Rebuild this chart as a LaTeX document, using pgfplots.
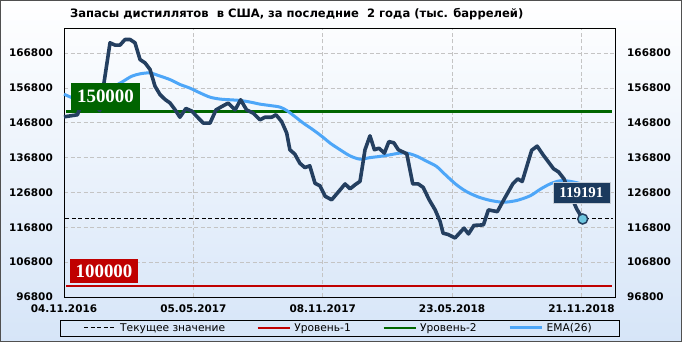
\documentclass[border=0pt]{standalone}
\usepackage{fontspec}
\setmainfont{DejaVu Sans}
\newfontfamily\lblfont{Liberation Serif}
\usepackage{pgfplots}
\pgfplotsset{compat=1.18}
\definecolor{lineC}{HTML}{243F60}
\definecolor{emaC}{HTML}{4DA6F8}
\definecolor{greenC}{HTML}{006600}
\definecolor{greenBox}{HTML}{006400}
\definecolor{redC}{HTML}{C00000}
\definecolor{markC}{HTML}{6EC6DF}
\definecolor{bgB}{HTML}{D6E5F8}
\definecolor{frameC}{HTML}{505050}
\definecolor{gridC}{HTML}{C4C4C4}
\definecolor{boxC}{HTML}{1B3A5E}
\begin{document}
\begin{tikzpicture}
\shade[top color=white, bottom color=bgB] (0,0) rectangle (682bp,342bp);
\draw[frameC, line width=1bp] (0.5bp,0.5bp) rectangle (681.5bp,341.5bp);
\node[anchor=west, font=\bfseries\fontsize{11.6}{13}\selectfont, inner sep=0] at (70bp,328bp) {Запасы дистиллятов\ \ в США, за последние\ \ 2 года (тыс. баррелей)};
\begin{axis}[at={(64bp,45bp)}, anchor=south west, scale only axis,
  width=551bp, height=269bp,
  xmin=0, xmax=110.75, ymin=96800, ymax=174000,
  scaled y ticks=false, scaled x ticks=false,
  xtick={0,26,52,78,104},
  xticklabels={04.11.2016,05.05.2017,08.11.2017,23.05.2018,21.11.2018},
  ytick={96800,106800,116800,126800,136800,146800,156800,166800},
  yticklabels={96800,106800,116800,126800,136800,146800,156800,166800},
  grid=major,
  major grid style={color=gridC, line width=0.8bp, dash pattern=on 4bp off 2.5bp},
  major tick length=0,
  axis line style={line width=1bp, black},
  ticklabel style={font=\bfseries\fontsize{10.5}{12}\selectfont},
  yticklabel style={inner xsep=0, xshift=-11bp},
  xticklabel style={inner ysep=0, yshift=-8bp},
  clip=false,
  legend columns=4,
  legend style={at={(0.5,-0.0855)}, anchor=north, draw=black, fill=none,
    font=\fontsize{10.7}{12}\selectfont, inner xsep=24bp, inner ysep=1bp,
    nodes={inner xsep=3.5bp, inner ysep=2bp},
    /tikz/every even column/.append style={column sep=28bp}},
  legend image code/.code={\draw[#1] (0bp,0bp) -- (32bp,0bp);},
]
\addplot[black, line width=1bp, dash pattern=on 4bp off 2.5bp] coordinates {(0.3,119191) (110.4,119191)};
\addlegendentry{Текущее значение}
\addplot[redC, line width=2.3bp] coordinates {(0.5,100000) (110.2,100000)};
\addlegendentry{Уровень-1}
\addplot[greenC, line width=2.3bp] coordinates {(0.5,150000) (110.2,150000)};
\addlegendentry{Уровень-2}
\addplot[emaC, line width=3bp, smooth, tension=0.5] coordinates {
(0,155000) (2.55,153550) (5.6,153100) (8.0,154250) (10.05,157100) (11.9,158700) (13.6,160150) (15.3,160850) (17.3,161100) (19.3,160200) (21.3,159200) (23.3,157800) (25.3,156750) (27.3,155400) (29.35,154150) (31.36,153600) (33.4,153400) (35.4,153200) (37.4,152750) (39.4,152150) (41.4,151750) (43.4,151300) (44.8,150300) (46.4,148600) (48.1,146700) (50.1,144750) (52.1,142600) (53.5,140950) (55.5,139050) (57.5,137300) (59.5,136350) (61.5,136800) (63.5,137150) (65.5,137600) (67.5,138100) (69.1,138050) (71.0,137150) (72.9,135750) (74.9,134250) (76.9,131550) (78.9,129000) (80.9,127050) (83.2,125550) (85.6,124550) (88.3,124000) (91.0,124500) (93.7,125850) (95.7,127700) (97.7,129250) (99.7,130150) (101.7,130000) (104.1,129250)};
\addlegendentry{EMA(26)}
\addplot[lineC, line width=3.6bp, line join=round, forget plot] coordinates {
(0,148500) (2.7,149100) (3.3,151500) (5.2,154300) (7.2,150300) (9.25,169750) (10.25,169100) (11.26,169100) (12.26,170700) (13.27,170700) (14.27,169750) (15.28,164950) (16.28,164000) (17.29,162100) (18.29,157300) (19.3,154900) (20.3,153500) (21.3,152500) (22.3,150600) (23.3,148400) (24.5,150900) (25.7,150150) (26.7,148600) (28.0,146700) (29.35,146700) (30.55,150500) (31.7,151450) (33.0,152450) (34.4,150500) (35.5,153400) (36.7,150500) (38.05,149550) (39.4,147650) (40.4,148400) (41.75,148400) (42.6,149100) (43.75,147150) (44.76,143850) (45.4,139050) (46.4,137800) (47.4,135200) (48.4,133950) (49.4,134450) (50.45,129450) (51.46,128700) (52.5,125700) (53.8,124700) (55.5,127550) (56.5,129250) (57.5,127850) (58.5,129000) (59.5,130000) (60.5,139050) (61.5,143050) (62.4,139050) (63.3,139500) (64.4,138100) (65.3,141400) (66.3,141050) (67.2,139050) (68.9,137900) (70.1,129250) (71.2,129250) (72.2,128250) (73.4,124700) (74.6,121800) (75.6,118450) (76.2,115100) (77.2,114750) (78.6,113750) (80.4,116550) (81.3,114900) (82.4,117350) (84.3,117500) (85.3,121800) (87.1,121300) (88.4,124700) (90.2,129250) (91.2,130700) (92.1,129950) (94.0,138900) (95.1,140100) (96.3,137600) (97.3,135700) (98.4,133600) (99.4,132700) (100.5,130700) (101.7,126400) (103.05,122100) (104.26,119191)};
\addplot[only marks, mark=*, mark size=5bp, mark options={fill=markC, draw=lineC, line width=1.5bp}, forget plot] coordinates {(104.26,119191)};
\node[fill=greenBox, text=white, font=\lblfont\bfseries\fontsize{19}{19}\selectfont, minimum width=69bp, minimum height=27bp, inner sep=0] at (axis cs:8.34,154393) {150000};
\node[fill=redC, text=white, font=\lblfont\bfseries\fontsize{19}{19}\selectfont, minimum width=68bp, minimum height=24bp, inner sep=0] at (axis cs:8.04,104293) {100000};
\node[fill=boxC, draw=white!75!boxC, line width=0.8bp, text=white, font=\lblfont\bfseries\fontsize{15}{15}\selectfont, minimum width=57bp, minimum height=20.6bp, inner sep=0] at (axis cs:104.0,126687) {119191};
\end{axis}
\begin{axis}[at={(64bp,45bp)}, anchor=south west, scale only axis,
  width=551bp, height=269bp,
  xmin=0, xmax=110.75, ymin=96800, ymax=174000,
  scaled y ticks=false,
  xtick=\empty,
  ytick={96800,106800,116800,126800,136800,146800,156800,166800},
  yticklabels={96800,106800,116800,126800,136800,146800,156800,166800},
  yticklabel pos=right,
  major tick length=0,
  axis line style={draw=none},
  ticklabel style={font=\bfseries\fontsize{10.5}{12}\selectfont},
  yticklabel style={anchor=west, inner xsep=0, xshift=12bp},
]
\end{axis}
\end{tikzpicture}
\end{document}
